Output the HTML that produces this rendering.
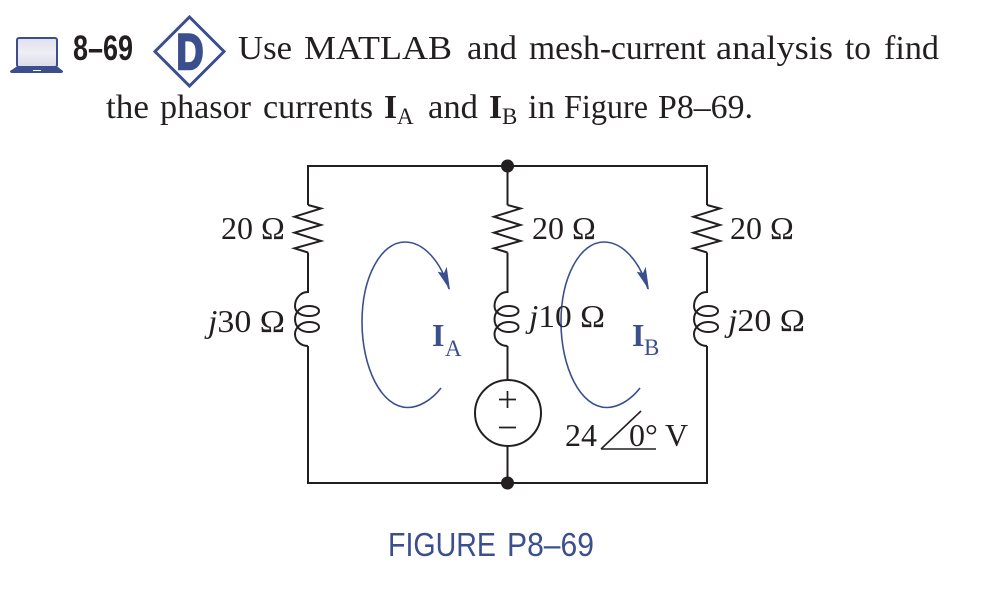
<!DOCTYPE html>
<html>
<head>
<meta charset="utf-8">
<style>
html,body{margin:0;padding:0;background:#fff}
svg{display:block}
text{font-family:"Liberation Serif",serif;fill:#231f20}
.s{font-size:32px}
.l{font-size:33.5px}
.w{fill:none;stroke:#231f20;stroke-width:2}
.a{fill:none;stroke:#3b4f8f;stroke-width:1.6}
</style>
</head>
<body>
<svg width="992" height="592" viewBox="0 0 992 592" xmlns="http://www.w3.org/2000/svg">
<defs>
<linearGradient id="g" x1="0" y1="0" x2="0" y2="1"><stop offset="0" stop-color="#dfe0ec"/><stop offset=".5" stop-color="#eeeef5"/><stop offset="1" stop-color="#dcdce9"/></linearGradient>
</defs>
<!-- laptop -->
<rect x="17" y="38" width="40" height="29" rx="2" fill="url(#g)" stroke="#3b4f8f" stroke-width="2"/>
<path d="M16 67H58L63 71Q63 73 61 73H12Q10 73 10 71Z" fill="#3b4f8f"/>
<rect x="33" y="70" width="8" height="1" fill="#fff"/>
<!-- number -->
<text x="73" y="60" font-weight="700" style="font-family:'Liberation Sans',sans-serif;font-size:35.5px" textLength="60" lengthAdjust="spacingAndGlyphs">8–69</text>
<!-- diamond -->
<polygon points="189.500,17 224,51.500 189.500,86 155,51.500" fill="#fff" stroke="#3b4f8f" stroke-width="3"/>
<text x="176.500" y="69" font-weight="700" style="font-family:'Liberation Sans',sans-serif;font-size:50px;fill:#3b4f8f;stroke:#3b4f8f;stroke-width:2.500" textLength="27" lengthAdjust="spacingAndGlyphs">D</text>
<!-- paragraph line 1 -->
<text x="238" y="59" class="l" textLength="54" lengthAdjust="spacingAndGlyphs">Use</text>
<text x="304" y="59" class="l" textLength="148" lengthAdjust="spacingAndGlyphs">MATLAB</text>
<text x="467" y="59" class="l" textLength="50" lengthAdjust="spacingAndGlyphs">and</text>
<text x="529" y="59" class="l" textLength="177" lengthAdjust="spacingAndGlyphs">mesh-current</text>
<text x="716" y="59" class="l" textLength="117" lengthAdjust="spacingAndGlyphs">analysis</text>
<text x="845" y="59" class="l" textLength="26" lengthAdjust="spacingAndGlyphs">to</text>
<text x="884" y="59" class="l" textLength="55" lengthAdjust="spacingAndGlyphs">find</text>
<!-- line 2 -->
<text x="106" y="118" class="l" textLength="43" lengthAdjust="spacingAndGlyphs">the</text>
<text x="160" y="118" class="l" textLength="91" lengthAdjust="spacingAndGlyphs">phasor</text>
<text x="263" y="118" class="l" textLength="110" lengthAdjust="spacingAndGlyphs">currents</text>
<text x="384" y="118" class="l" font-weight="700">I</text>
<text x="397" y="124" style="font-size:23px">A</text>
<text x="428" y="118" class="l" textLength="50" lengthAdjust="spacingAndGlyphs">and</text>
<text x="489" y="118" class="l" font-weight="700">I</text>
<text x="502" y="124" style="font-size:23px">B</text>
<text x="528" y="118" class="l" textLength="27" lengthAdjust="spacingAndGlyphs">in</text>
<text x="564" y="118" class="l" textLength="84" lengthAdjust="spacingAndGlyphs">Figure</text>
<text x="658" y="118" class="l" textLength="95" lengthAdjust="spacingAndGlyphs">P8–69.</text>

<!-- wires -->
<path class="w" d="M308 205V166H707V205M507.500 166V205M308 252.500V276M507.500 252.500V276M707 252.500V276M308 346V483H707V346M507.500 346V380M507.500 446V483"/>
<!-- resistors -->
<path class="w" d="M308 205L321 208.500L294.500 216.700L321 225L294.500 232.700L321 241L294.500 248.300L308 252.500"/>
<path class="w" d="M507.500 205L520.500 208.500L494 216.700L520.500 225L494 232.700L520.500 241L494 248.300L507.500 252.500"/>
<path class="w" d="M707 205L720 208.500L693.500 216.700L720 225L693.500 232.700L720 241L693.500 248.300L707 252.500"/>
<!-- inductors -->
<path class="w" d="M308 276V292C300 292 295 299 295 306C295 313 302 316 309 316C315 316 319 314 319 311C319 308 315 306 309 306C301 306 295 312 295 319C295 328 302 332 309 332C315 332 319 330 319 327C319 324 315 322 309 322C301 322 295 328 295 334C295 341 301 346 308 346"/>
<path class="w" d="M507.500 276V292C499.500 292 494.500 299 494.500 306C494.500 313 501.500 316 508.500 316C514.500 316 518.500 314 518.500 311C518.500 308 514.500 306 508.500 306C500.500 306 494.500 312 494.500 319C494.500 328 501.500 332 508.500 332C514.500 332 518.500 330 518.500 327C518.500 324 514.500 322 508.500 322C500.500 322 494.500 328 494.500 334C494.500 341 500.500 346 507.500 346"/>
<path class="w" d="M707 276V292C699 292 694 299 694 306C694 313 701 316 708 316C714 316 718 314 718 311C718 308 714 306 708 306C700 306 694 312 694 319C694 328 701 332 708 332C714 332 718 330 718 327C718 324 714 322 708 322C700 322 694 328 694 334C694 341 700 346 707 346"/>
<!-- nodes -->
<circle cx="507.500" cy="166" r="6.500" fill="#231f20"/>
<circle cx="507.500" cy="483" r="6.500" fill="#231f20"/>
<!-- source -->
<circle cx="508" cy="413" r="33" fill="#fff" stroke="#231f20" stroke-width="2"/>
<path d="M499 399.500H516M507.500 391V408M499 427.500H516" fill="none" stroke="#231f20" stroke-width="1.700"/>
<!-- mesh arcs -->
<path class="a" d="M441 388C431 401 418 407.500 408 407.500C381 407.500 362 367 362 322C362 277 381 242 405 242C424 242 441 262 449 289"/>
<path d="M450 290L437.700 271.700L444 273L446.700 266.700Z" fill="#3b4f8f"/>
<path class="a" d="M640 388C630 401 617 407.500 607 407.500C580 407.500 561 367 561 322C561 277 580 242 604 242C623 242 640 262 648 289"/>
<path d="M649 290L636.700 271.700L643 273L645.700 266.700Z" fill="#3b4f8f"/>
<!-- labels -->
<text x="221" y="239" class="s">20 Ω</text>
<text x="532" y="239" class="s">20 Ω</text>
<text x="730" y="239" class="s">20 Ω</text>
<text x="208" y="332" class="s" textLength="77" lengthAdjust="spacingAndGlyphs"><tspan font-style="italic">j</tspan>30 Ω</text>
<text x="529" y="327" class="s" textLength="76" lengthAdjust="spacingAndGlyphs"><tspan font-style="italic">j</tspan>10 Ω</text>
<text x="728" y="331" class="s" textLength="77" lengthAdjust="spacingAndGlyphs"><tspan font-style="italic">j</tspan>20 Ω</text>
<text x="432" y="346" font-weight="700" style="font-size:32px;fill:#3b4f8f">I</text>
<text x="445" y="356" style="font-size:23px;fill:#3b4f8f">A</text>
<text x="632" y="346" font-weight="700" style="font-size:32px;fill:#3b4f8f">I</text>
<text x="644" y="355" style="font-size:23px;fill:#3b4f8f">B</text>
<text x="565" y="446" class="s">24</text>
<path d="M601 449H656M601 449L641 411" fill="none" stroke="#231f20" stroke-width="1.600"/>
<text x="629" y="446" class="s">0°</text>
<text x="665" y="446" class="s">V</text>
<text x="388" y="556" style="font-family:'Liberation Sans',sans-serif;font-size:33px;fill:#3b4f8f" textLength="108" lengthAdjust="spacingAndGlyphs">FIGURE</text>
<text x="507" y="556" style="font-family:'Liberation Sans',sans-serif;font-size:33px;fill:#3b4f8f" textLength="87" lengthAdjust="spacingAndGlyphs">P8–69</text>
</svg>
</body>
</html>
